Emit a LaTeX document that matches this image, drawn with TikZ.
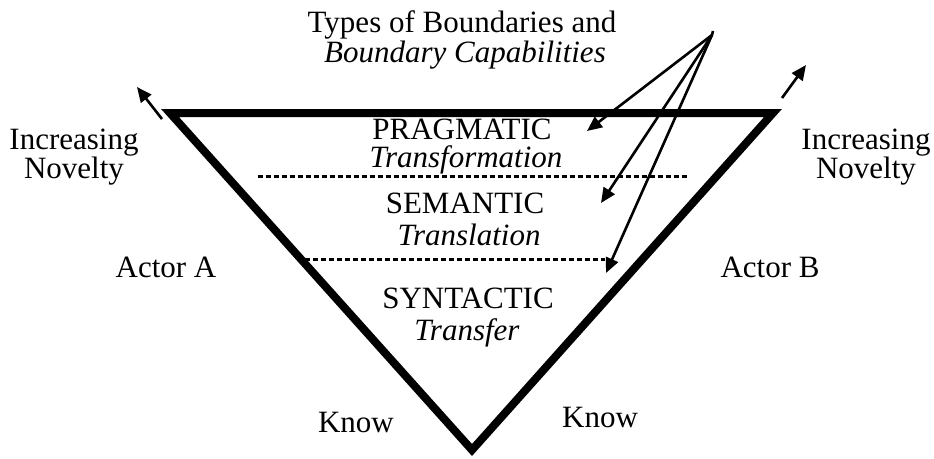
\documentclass[tikz,border=0pt]{standalone}
\usepackage{fontspec}
\setmainfont{Liberation Serif}
\usetikzlibrary{arrows.meta}
\tikzset{
  lbl/.style={anchor=base, inner sep=0pt, text height=21pt, text depth=5pt, font=\fontsize{31}{33}\selectfont},
  ilbl/.style={lbl, font=\fontsize{31}{33}\selectfont\itshape},
  tri/.style={line width=8pt, line join=miter},
  divider/.style={line width=3pt, dash pattern=on 4.5pt off 3.5pt},
  pointer/.style={line width=2.6pt, -{Triangle[length=15pt,width=13pt]}},
}
\begin{document}
\begin{tikzpicture}[x=1pt,y=-1pt]
\useasboundingbox (0,0) rectangle (934,458);
% triangle
\coordinate (tl) at (170,113);
\coordinate (tr) at (773,113);
\coordinate (bt) at (472,450);
\draw[tri] (tl) -- (tr) -- (bt) -- cycle;
% dividers
\coordinate (d1a) at (258,176);
\coordinate (d1b) at (688,176);
\coordinate (d2a) at (305,259);
\coordinate (d2b) at (605,259);
\draw[divider] (d1a) -- (d1b);
\draw[divider] (d2a) -- (d2b);
% labels
\node[lbl] (t1) at (462,32) {Types of Boundaries and};
\node[ilbl] (t2) at (465,62) {Boundary Capabilities};
\node[lbl] (p1) at (462,139) {PRAGMATIC};
\node[ilbl] (p2) at (466,167) {Transformation};
\node[lbl] (s1) at (465,213) {SEMANTIC};
\node[ilbl] (s2) at (469,245) {Translation};
\node[lbl] (y1) at (468,308) {SYNTACTIC};
\node[ilbl] (y2) at (467,340) {Transfer};
\node[lbl] (nl1) at (74,149) {Increasing};
\node[lbl] (nl2) at (74,178) {Novelty};
\node[lbl] (nr1) at (866,149) {Increasing};
\node[lbl] (nr2) at (866,178) {Novelty};
\node[lbl] (aa) at (166,277) {Actor A};
\node[lbl] (ab) at (770,277) {Actor B};
\node[lbl] (kl) at (356,432) {Know};
\node[lbl] (kr) at (600,427) {Know};
% pointers
\coordinate (src) at (712,35);
\coordinate (srctop) at (713,31);
\coordinate (tp) at (587,131);
\coordinate (ts) at (601,203);
\coordinate (ty) at (606,273);
\draw[line width=2.6pt] (srctop) -- (src);
\draw[pointer] (src) -- (tp);
\draw[pointer] (src) -- (ts);
\draw[pointer] (src) -- (ty);
\coordinate (la0) at (162,119);
\coordinate (la1) at (137,87);
\coordinate (ra0) at (782,98);
\coordinate (ra1) at (806,65);
\draw[pointer] (la0) -- (la1);
\draw[pointer] (ra0) -- (ra1);
\end{tikzpicture}
\end{document}
